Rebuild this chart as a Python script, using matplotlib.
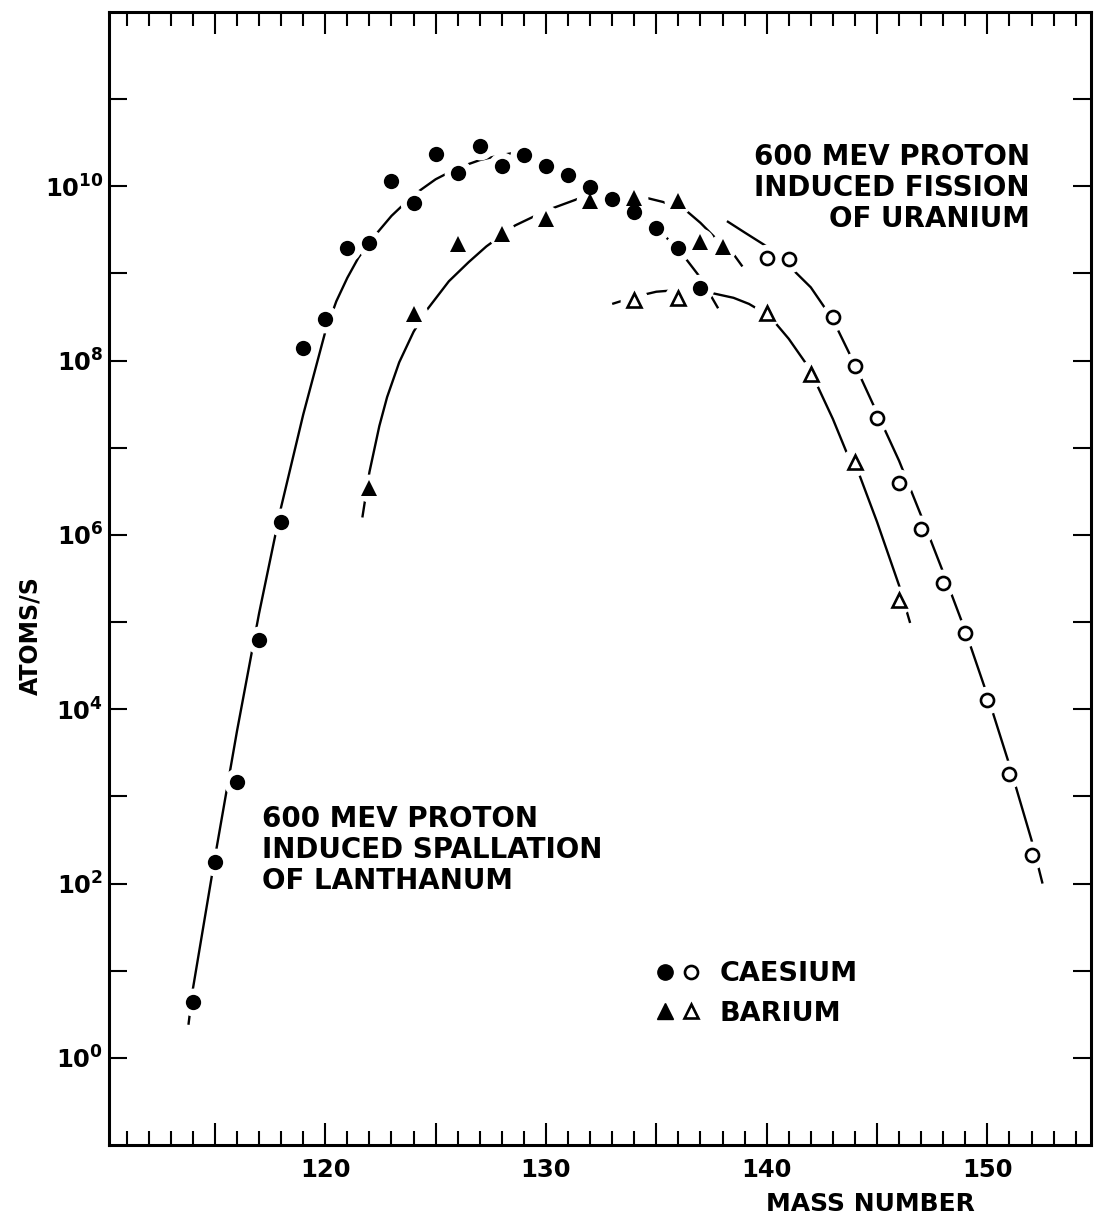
import numpy as np
import matplotlib
matplotlib.use("Agg")
import matplotlib.pyplot as plt
from matplotlib.lines import Line2D
from matplotlib.legend_handler import HandlerTuple
from matplotlib.ticker import FixedLocator, MultipleLocator, FuncFormatter, NullLocator

plt.rcParams['font.family'] = 'DejaVu Sans'
plt.rcParams['font.weight'] = 'bold'
plt.rcParams['mathtext.default'] = 'bf'

# --- measured points (log10 of atoms/s) ---
# spallation of lanthanum (filled symbols)
cs_spall_mass = [114, 115, 116, 117, 118, 119, 120, 121, 122, 123, 124, 125,
                 126, 127, 128, 129, 130, 131, 132, 133, 134, 135, 136, 137]
cs_spall_log = [0.64, 2.25, 3.17, 4.80, 6.15, 8.14, 8.48, 9.29, 9.35, 10.06, 9.81, 10.37,
                10.15, 10.46, 10.23, 10.36, 10.23, 10.13, 9.99, 9.85, 9.71, 9.52, 9.29, 8.83]
ba_spall_mass = [122, 124, 126, 128, 130, 132, 134, 136, 137, 138]
ba_spall_log = [6.54, 8.53, 9.34, 9.45, 9.63, 9.83, 9.86, 9.83, 9.36, 9.30]

# fission of uranium (open symbols)
cs_fiss_mass = [140, 141, 143, 144, 145, 146, 147, 148, 149, 150, 151, 152]
cs_fiss_log = [9.18, 9.16, 8.50, 7.94, 7.34, 6.59, 6.07, 5.45, 4.87, 4.11, 3.26, 2.33]
ba_fiss_mass = [134, 136, 140, 142, 144, 146]
ba_fiss_log = [8.69, 8.72, 8.55, 7.85, 6.84, 5.25]

# --- hand-drawn guide curves ---
cs_spall_curve_x = [113.8, 114.0, 115.0, 116.0, 117.0, 118.0, 119.0, 120.0, 120.5, 121.0,
                    121.5, 122.0, 123.0, 124.0, 125.0, 126.0, 127.0, 128.0, 128.5, 129.0,
                    130.0, 131.0, 132.0, 133.0, 134.0, 135.0, 136.0, 137.0, 137.8]
cs_spall_curve_log = [0.38, 0.79, 2.30, 3.75, 5.10, 6.32, 7.38, 8.33, 8.68, 8.95,
                      9.18, 9.36, 9.66, 9.90, 10.08, 10.21, 10.30, 10.36, 10.38, 10.36,
                      10.26, 10.15, 10.01, 9.87, 9.71, 9.52, 9.28, 8.95, 8.60]

ba_spall_curve_x = [121.68, 122.0, 122.45, 122.8, 123.35, 124.0, 124.6, 125.6, 126.5, 127.3,
                    128.6, 130.0, 131.5, 132.5, 133.5, 134.5, 135.3, 136.4, 137.0, 137.7,
                    138.5, 138.9]
ba_spall_curve_log = [6.20, 6.72, 7.25, 7.58, 7.98, 8.33, 8.58, 8.91, 9.13, 9.31,
                      9.55, 9.72, 9.86, 9.91, 9.92, 9.87, 9.82, 9.71, 9.58, 9.40,
                      9.22, 9.08]

cs_fiss_curve_x = [138.2, 139.0, 140.0, 141.0, 142.0, 143.0, 144.0, 145.0, 146.0, 147.0,
                   148.0, 149.0, 150.0, 151.0, 152.0, 152.5]
cs_fiss_curve_log = [9.60, 9.47, 9.31, 9.09, 8.84, 8.47, 7.95, 7.40, 6.85, 6.22,
                     5.57, 4.90, 4.16, 3.36, 2.50, 2.00]

ba_fiss_curve_x = [133.0, 134.0, 135.0, 136.0, 137.0, 137.6, 138.5, 139.2, 140.0, 140.4,
                   141.0, 141.8, 142.3, 143.0, 143.6, 144.2, 145.0, 146.0, 146.5]
ba_fiss_curve_log = [8.65, 8.73, 8.79, 8.81, 8.80, 8.77, 8.72, 8.65, 8.53, 8.43,
                     8.25, 7.96, 7.71, 7.33, 6.96, 6.69, 6.15, 5.42, 4.99]

x_labels = [120, 130, 140, 150]


def pw(v):
    return 10.0 ** np.asarray(v)


fig = plt.figure(figsize=(11.01, 12.29), dpi=100)
ax = fig.add_axes([0.099, 0.0683, 0.892, 0.922])
ax.set_yscale('log')
ax.set_xlim(110.2, 154.7)
ax.set_ylim(1e-1, 1e12)

# curves
for cx, cy in [(cs_spall_curve_x, cs_spall_curve_log), (ba_spall_curve_x, ba_spall_curve_log),
               (cs_fiss_curve_x, cs_fiss_curve_log), (ba_fiss_curve_x, ba_fiss_curve_log)]:
    ax.plot(cx, pw(cy), color='black', lw=1.7, zorder=2, solid_capstyle='butt')

series = [
    (cs_spall_mass, cs_spall_log, 'o', 'black', 11.0, 0),
    (ba_spall_mass, ba_spall_log, '^', 'black', 11.5, 0),
    (cs_fiss_mass, cs_fiss_log, 'o', 'white', 9.4, 1.9),
    (ba_fiss_mass, ba_fiss_log, '^', 'white', 9.5, 1.9),
]
# white halos break the curves around each symbol
for m, v, mk, fc, ms, mew in series:
    ax.plot(m, pw(v), ls='none', marker='o', ms=19, color='white', mec='white', zorder=3)
for m, v, mk, fc, ms, mew in series:
    ax.plot(m, pw(v), ls='none', marker=mk, ms=ms, mfc=fc, mec='black', mew=mew, zorder=4)

# axes styling
for s in ax.spines.values():
    s.set_linewidth(2.2)
ax.xaxis.set_major_locator(MultipleLocator(5))
ax.xaxis.set_minor_locator(MultipleLocator(1))
ax.xaxis.set_major_formatter(FuncFormatter(lambda v, p: f'{int(round(v))}' if int(round(v)) in x_labels else ''))
ax.yaxis.set_major_locator(FixedLocator([10.0 ** e for e in range(0, 12)]))
ax.yaxis.set_minor_locator(NullLocator())
ax.yaxis.set_major_formatter(FuncFormatter(
    lambda v, p: (r'$10^{%d}$' % int(round(np.log10(v)))) if int(round(np.log10(v))) % 2 == 0 else ''))

ax.tick_params(axis='x', which='major', direction='in', top=True, length=16, width=1.5,
               labelsize=17.5, pad=9)
ax.tick_params(axis='x', which='minor', direction='in', top=True, length=10, width=1.5)
ax.tick_params(axis='y', which='major', direction='in', right=True, length=13, width=1.5,
               labelsize=17.5, pad=4)

ax.set_xlabel('MASS NUMBER', fontsize=18, fontweight='bold')
ax.xaxis.set_label_coords(0.775, -0.0415)
ax.set_ylabel('ATOMS/S', fontsize=17, fontweight='bold')
ax.yaxis.set_label_coords(-0.068, 0.45)

fig.text(1030 / 1101, 1 - 188 / 1229, '600 MEV PROTON\nINDUCED FISSION\nOF URANIUM',
         ha='right', va='center', multialignment='right', fontsize=20, fontweight='bold',
         linespacing=1.15)
fig.text(262 / 1101, 1 - 850 / 1229, '600 MEV PROTON\nINDUCED SPALLATION\nOF LANTHANUM',
         ha='left', va='center', multialignment='left', fontsize=20, fontweight='bold',
         linespacing=1.15)

# legend
h_cs = (Line2D([], [], ls='none', marker='o', ms=11, mfc='black', mec='black'),
        Line2D([], [], ls='none', marker='o', ms=9.4, mfc='white', mec='black', mew=1.9))
h_ba = (Line2D([], [], ls='none', marker='^', ms=11.5, mfc='black', mec='black'),
        Line2D([], [], ls='none', marker='^', ms=9.5, mfc='white', mec='black', mew=1.9))
fig.legend([h_cs, h_ba], ['CAESIUM', 'BARIUM'],
           handler_map={tuple: HandlerTuple(ndivide=None, pad=0)},
           loc='upper left', bbox_to_anchor=(652 / 1101, 1 - 961 / 1229),
           frameon=False, fontsize=19.5, handlelength=1.9, handletextpad=0.6,
           labelspacing=0.5, borderpad=0, borderaxespad=0, numpoints=1)

fig.savefig('out.png', dpi=100)
